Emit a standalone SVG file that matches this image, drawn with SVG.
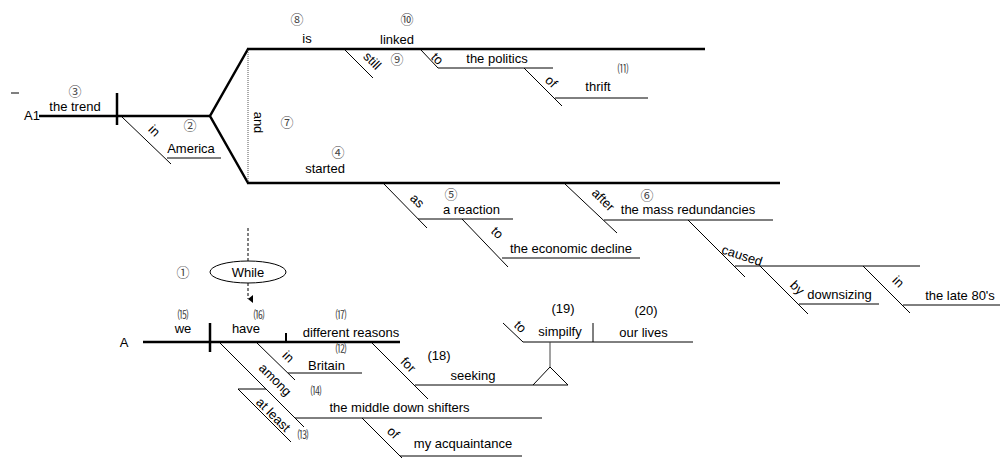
<svg xmlns="http://www.w3.org/2000/svg" width="1002" height="461" viewBox="0 0 1002 461">
  <style>
    .bg { fill: #ffffff; }
    .main { stroke: #000; stroke-width: 2.5; fill: none; stroke-linecap: butt; }
    .mod { stroke: #000; stroke-width: 1; fill: none; }
    .dot { stroke: #555; stroke-width: 1; stroke-dasharray: 1 1; fill: none; }
    .dash { stroke: #000; stroke-width: 1; stroke-dasharray: 3 2; fill: none; }
    text { font-family: "Liberation Sans", Arial, sans-serif; font-size: 13px; fill: #000; }
    .c { text-anchor: middle; }
    .num { font-family: "Noto Sans CJK JP", "DejaVu Sans", sans-serif; font-size: 13px; fill: #444; text-anchor: middle; }
    .pn { font-family: "Noto Sans CJK JP", "DejaVu Sans", sans-serif; font-size: 11px; fill: #333; text-anchor: middle; }
  </style>
  <defs>
    <marker id="arrow" markerWidth="8" markerHeight="6" refX="4" refY="5" orient="auto" markerUnits="userSpaceOnUse">
      <path d="M0,0 L8,0 L4,5 Z" fill="#000"/>
    </marker>
  </defs>
  <rect class="bg" x="0" y="0" width="1002" height="461"/>

  <!-- connectors: baselines, forks and modifier slants -->
  <g id="connectors">
    <!-- upper clause A1 -->
    <line class="mod" x1="11" y1="93" x2="19" y2="93"/>
    <line class="main" x1="39" y1="116" x2="210" y2="116"/>
    <line class="main" x1="117" y1="93" x2="117" y2="125"/>
    <polyline class="main" points="248,49 210,116 248,183"/>
    <line class="main" x1="247" y1="49" x2="705" y2="49"/>
    <line class="main" x1="247" y1="183" x2="780" y2="183"/>
    <line class="dot" x1="248" y1="50" x2="248" y2="182"/>
    <!-- in America -->
    <line class="mod" x1="122" y1="117" x2="171" y2="164"/>
    <line class="mod" x1="167" y1="158" x2="221" y2="158"/>
    <!-- still -->
    <line class="mod" x1="345" y1="50" x2="373" y2="78"/>
    <!-- to the politics / of thrift -->
    <polyline class="mod" points="421,50 438,68 553,68"/>
    <line class="mod" x1="524" y1="68" x2="562" y2="106"/>
    <line class="mod" x1="555" y1="98" x2="648" y2="98"/>
    <!-- as a reaction / to the economic decline -->
    <line class="mod" x1="384" y1="184" x2="427" y2="228"/>
    <line class="mod" x1="418" y1="219" x2="513" y2="219"/>
    <line class="mod" x1="462" y1="219" x2="508" y2="267"/>
    <line class="mod" x1="502" y1="258" x2="640" y2="258"/>
    <!-- after the mass redundancies / caused / by / in -->
    <line class="mod" x1="565" y1="184" x2="617" y2="233"/>
    <line class="mod" x1="604" y1="220" x2="773" y2="220"/>
    <line class="mod" x1="688" y1="220" x2="745" y2="277"/>
    <line class="mod" x1="735" y1="266" x2="920" y2="266"/>
    <line class="mod" x1="760" y1="266" x2="808" y2="314"/>
    <line class="mod" x1="799" y1="304" x2="879" y2="304"/>
    <line class="mod" x1="863" y1="266" x2="910" y2="313"/>
    <line class="mod" x1="903" y1="305" x2="1000" y2="305"/>

    <!-- While: dashed link between the clauses -->
    <line class="dash" x1="248" y1="228" x2="248" y2="261"/>
    <line class="dash" x1="248" y1="283" x2="248" y2="299" marker-end="url(#arrow)"/>

    <!-- lower clause A -->
    <line class="main" x1="143" y1="342" x2="400" y2="342"/>
    <line class="main" x1="210" y1="323" x2="210" y2="352"/>
    <line class="main" x1="286" y1="333" x2="286" y2="342" style="stroke-width:2"/>
    <!-- in Britain -->
    <line class="mod" x1="257" y1="343" x2="295" y2="380"/>
    <line class="mod" x1="288" y1="373" x2="362" y2="373"/>
    <!-- for seeking -->
    <line class="mod" x1="372" y1="343" x2="428" y2="399"/>
    <line class="mod" x1="415" y1="385" x2="568" y2="385"/>
    <!-- among / at least -->
    <line class="mod" x1="220" y1="343" x2="304" y2="427"/>
    <line class="mod" x1="295" y1="418" x2="542" y2="418"/>
    <polyline class="mod" points="266,389 238,389 291,442"/>
    <!-- of my acquaintance -->
    <line class="mod" x1="362" y1="418" x2="402" y2="458"/>
    <line class="mod" x1="400" y1="456" x2="522" y2="456"/>
    <!-- infinitive on stilt -->
    <polyline class="mod" points="503,323 523,342 693,342"/>
    <line class="mod" x1="593" y1="323" x2="593" y2="342"/>
    <line class="mod" x1="550" y1="342" x2="550" y2="367" style="stroke:#444"/>
    <polyline class="mod" points="533,385 550,367 568,385"/>
  </g>

  <!-- upper clause nodes -->
  <g id="label-a1"><text x="24" y="120">A1</text></g>
  <g id="node-trend">
    <text class="num" x="75" y="96">③</text>
    <text class="c" x="75" y="111">the trend</text>
  </g>
  <g id="node-america">
    <text class="num" x="190" y="130">②</text>
    <text transform="translate(154,131) rotate(45)" class="c" y="4">in</text>
    <text class="c" x="191" y="153">America</text>
  </g>
  <g id="node-and">
    <text transform="translate(257.5,122.5) rotate(90)" class="c" y="4">and</text>
    <text class="num" x="287" y="127">⑦</text>
  </g>
  <g id="node-is">
    <text class="num" x="297" y="24">⑧</text>
    <text class="c" x="307" y="43">is</text>
  </g>
  <g id="node-still">
    <text transform="translate(372,61) rotate(45)" class="c" y="4">still</text>
    <text class="num" x="397" y="64">⑨</text>
  </g>
  <g id="node-linked">
    <text class="num" x="407" y="24">⑩</text>
    <text class="c" x="397" y="44">linked</text>
  </g>
  <g id="node-politics">
    <text transform="translate(437,59) rotate(45)" class="c" y="4">to</text>
    <text class="c" x="497" y="63">the politics</text>
  </g>
  <g id="node-thrift">
    <text transform="translate(551,82) rotate(45)" class="c" y="4">of</text>
    <text class="pn" x="623" y="73">⑾</text>
    <text class="c" x="598" y="91">thrift</text>
  </g>
  <g id="node-started">
    <text class="num" x="338" y="157">④</text>
    <text class="c" x="325" y="173">started</text>
  </g>
  <g id="node-reaction">
    <text transform="translate(417,201) rotate(45)" class="c" y="4">as</text>
    <text class="num" x="451" y="199">⑤</text>
    <text class="c" x="471.5" y="214">a reaction</text>
  </g>
  <g id="node-decline">
    <text transform="translate(497,233) rotate(45)" class="c" y="4">to</text>
    <text class="c" x="571" y="253">the economic decline</text>
  </g>
  <g id="node-redundancies">
    <text transform="translate(603,200) rotate(45)" class="c" y="4">after</text>
    <text class="num" x="647" y="200">⑥</text>
    <text class="c" x="688" y="214">the mass redundancies</text>
  </g>
  <g id="node-caused">
    <text transform="translate(742,256) rotate(18)" class="c" y="4">caused</text>
  </g>
  <g id="node-downsizing">
    <text transform="translate(797,288) rotate(45)" class="c" y="4">by</text>
    <text class="c" x="839.5" y="299">downsizing</text>
  </g>
  <g id="node-late80s">
    <text transform="translate(898,282) rotate(45)" class="c" y="4">in</text>
    <text class="c" x="960" y="300">the late 80's</text>
  </g>

  <!-- conjunction -->
  <g id="node-while">
    <text class="num" x="183" y="277">①</text>
    <ellipse cx="248" cy="272" rx="38" ry="11" fill="#fff" stroke="#000" stroke-width="1"/>
    <text class="c" x="248" y="276.5">While</text>
  </g>

  <!-- lower clause nodes -->
  <g id="label-a"><text class="c" x="124" y="347">A</text></g>
  <g id="node-we">
    <text class="pn" x="183" y="319">⒂</text>
    <text class="c" x="183" y="333">we</text>
  </g>
  <g id="node-have">
    <text class="pn" x="259" y="319">⒃</text>
    <text class="c" x="246" y="333">have</text>
  </g>
  <g id="node-reasons">
    <text class="pn" x="341" y="319">⒄</text>
    <text class="c" x="351" y="337">different reasons</text>
  </g>
  <g id="node-britain">
    <text transform="translate(288,357) rotate(45)" class="c" y="4">in</text>
    <text class="pn" x="341" y="353">⑿</text>
    <text class="c" x="326.5" y="370">Britain</text>
  </g>
  <g id="node-seeking">
    <text transform="translate(408,365) rotate(45)" class="c" y="4">for</text>
    <text class="c" x="439" y="360">(18)</text>
    <text class="c" x="473" y="380">seeking</text>
  </g>
  <g id="node-shifters">
    <text transform="translate(275,380) rotate(45)" class="c" y="4">among</text>
    <text class="pn" x="316" y="395">⒁</text>
    <text class="c" x="399.5" y="412">the middle down shifters</text>
  </g>
  <g id="node-atleast">
    <text transform="translate(273,415) rotate(45)" class="c" y="4">at least</text>
    <text class="pn" x="303" y="439">⒀</text>
  </g>
  <g id="node-acquaintance">
    <text transform="translate(393,433) rotate(45)" class="c" y="4">of</text>
    <text class="c" x="463" y="448">my acquaintance</text>
  </g>
  <g id="node-simplify">
    <text transform="translate(520,327) rotate(45)" class="c" y="4">to</text>
    <text class="c" x="563" y="313">(19)</text>
    <text class="c" x="560" y="336">simpilfy</text>
  </g>
  <g id="node-lives">
    <text class="c" x="646" y="315">(20)</text>
    <text class="c" x="643.5" y="337">our lives</text>
  </g>
</svg>
